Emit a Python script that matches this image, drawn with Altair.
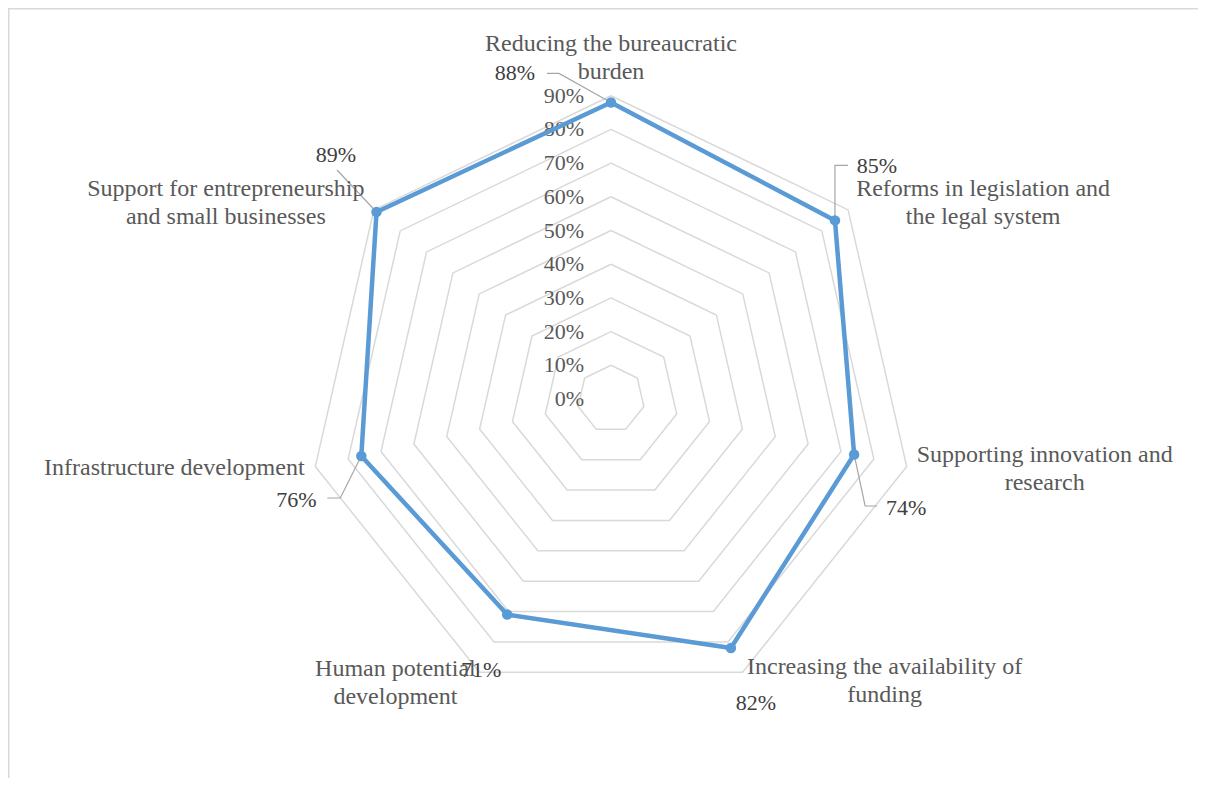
import math
import altair as alt
import pandas as pd

# ---------------- data ----------------
categories = [
    "Reducing the bureaucratic\nburden",
    "Reforms in legislation and\nthe legal system",
    "Supporting innovation and\nresearch",
    "Increasing the availability of\nfunding",
    "Human potential\ndevelopment",
    "Infrastructure development",
    "Support for entrepreneurship\nand small businesses",
]
values = [0.88, 0.85, 0.74, 0.82, 0.71, 0.76, 0.89]
value_labels = ["88%", "85%", "74%", "82%", "71%", "76%", "89%"]
ring_levels = [0.1, 0.2, 0.3, 0.4, 0.5, 0.6, 0.7, 0.8, 0.9]
tick_values = [0.0, 0.1, 0.2, 0.3, 0.4, 0.5, 0.6, 0.7, 0.8, 0.9]
tick_labels = ["0%", "10%", "20%", "30%", "40%", "50%", "60%", "70%", "80%", "90%"]

# ---------------- layout (pixels) ----------------
W, H = 1190, 770          # plot area
CX, CY = 603, 391         # radar centre inside plot area
R = 337                   # pixels per 100 %
OUTER = 0.9
LH = 28                   # line height of category labels
# category label block centre offset from the outer ring vertex (px)
cat_off = [(0, -38), (135, -7), (138, 2.5), (142, 9), (-84, 11), (-141, 1.5), (-148, -7)]
# value label centre offset from its data point (px)
val_off = [(-96, -29), (42, -54), (52, 53.5), (25, 55), (-26, 55.5), (-65, 44), (-40.5, -57)]
# leader lines: (start, elbow) offsets from the value label centre, or None
leader_off = [((32, 0), (44, 0)), ((-29, -1), (-42, -1)), ((-29, -2), (-41, -2)),
              None, None, ((31, -2), (44, -2)), ((1, 15), (1, 15))]

N = len(categories)
XD = [-CX / R, (W - CX) / R]
YD = [-(H - CY) / R, CY / R]


def polar(v, k):
    t = 2 * math.pi * k / N
    return v * math.sin(t), v * math.cos(t)


def shift(p, off):
    return p[0] + off[0] / R, p[1] - off[1] / R


xs = alt.Scale(domain=XD, nice=False, zero=False)
ys = alt.Scale(domain=YD, nice=False, zero=False)

# grid rings
ring_rows = []
for lv in ring_levels:
    for i in range(N + 1):
        x, y = polar(lv, i % N)
        ring_rows.append({"level": lv, "o": i, "x": x, "y": y})
rings = alt.Chart(pd.DataFrame(ring_rows)).mark_line(
    color="#D9D9D9", strokeWidth=1.5
).encode(
    x=alt.X("x:Q", scale=xs, axis=None),
    y=alt.Y("y:Q", scale=ys, axis=None),
    detail="level:N",
    order="o:Q",
)

# tick labels
tick_df = pd.DataFrame({"x": [-27 / R] * len(tick_values), "y": tick_values, "t": tick_labels})
ticks = alt.Chart(tick_df).mark_text(
    align="right", baseline="middle", font="Liberation Serif", fontSize=22, color="#595959"
).encode(x=alt.X("x:Q", scale=xs), y=alt.Y("y:Q", scale=ys), text="t:N")

# series
ser_rows = []
for i in range(N + 1):
    k = i % N
    x, y = polar(values[k], k)
    ser_rows.append({"o": i, "x": x, "y": y})
ser_df = pd.DataFrame(ser_rows)
line = alt.Chart(ser_df).mark_line(color="#5B9BD5", strokeWidth=4.5, strokeJoin="round").encode(
    x=alt.X("x:Q", scale=xs), y=alt.Y("y:Q", scale=ys), order="o:Q"
)
pts = alt.Chart(ser_df.iloc[:N]).mark_circle(color="#5B9BD5", opacity=1, size=110).encode(
    x=alt.X("x:Q", scale=xs), y=alt.Y("y:Q", scale=ys)
)

# leader lines
lead_rows = []
for k in range(N):
    if leader_off[k] is None:
        continue
    p = polar(values[k], k)
    lab = shift(p, val_off[k])
    s = shift(lab, leader_off[k][0])
    e = shift(lab, leader_off[k][1])
    for j, q in enumerate([s, e, p]):
        lead_rows.append({"k": k, "o": j, "x": q[0], "y": q[1]})
leaders = alt.Chart(pd.DataFrame(lead_rows)).mark_line(color="#A6A6A6", strokeWidth=1.2).encode(
    x=alt.X("x:Q", scale=xs), y=alt.Y("y:Q", scale=ys), detail="k:N", order="o:Q"
)

# value labels
vl_rows = []
for k in range(N):
    q = shift(polar(values[k], k), val_off[k])
    vl_rows.append({"x": q[0], "y": q[1], "t": value_labels[k]})
vlabels = alt.Chart(pd.DataFrame(vl_rows)).mark_text(
    align="center", baseline="middle", font="Liberation Serif", fontSize=22, color="#404040"
).encode(x=alt.X("x:Q", scale=xs), y=alt.Y("y:Q", scale=ys), text="t:N")

# category labels (first line placed so that the whole block is centred)
cl_rows = []
for k in range(N):
    extra = categories[k].count("\n") * LH / 2
    q = shift(polar(OUTER, k), (cat_off[k][0], cat_off[k][1] - extra))
    cl_rows.append({"x": q[0], "y": q[1], "t": categories[k]})
clabels = alt.Chart(pd.DataFrame(cl_rows)).mark_text(
    align="center", baseline="middle", font="Liberation Serif", fontSize=24,
    color="#595959", lineBreak="\n", lineHeight=LH
).encode(x=alt.X("x:Q", scale=xs), y=alt.Y("y:Q", scale=ys), text="t:N")

# chart border (top and left edges)
btop = alt.Chart(pd.DataFrame({"a": [0]})).mark_rule(color="#D9D9D9", strokeWidth=1.5).encode(
    x=alt.value(0), x2=alt.value(W), y=alt.value(0.75)
)
bleft = alt.Chart(pd.DataFrame({"a": [0]})).mark_rule(color="#D9D9D9", strokeWidth=1.5).encode(
    x=alt.value(0.75), y=alt.value(0), y2=alt.value(H)
)

chart = alt.layer(
    btop, bleft, rings, ticks, leaders, line, pts, vlabels, clabels
).properties(
    width=W, height=H, padding=0, autosize=alt.AutoSizeParams(type="none")
).configure_view(stroke=None)

chart.save("out.html", embed_options={"renderer": "svg", "actions": False})
